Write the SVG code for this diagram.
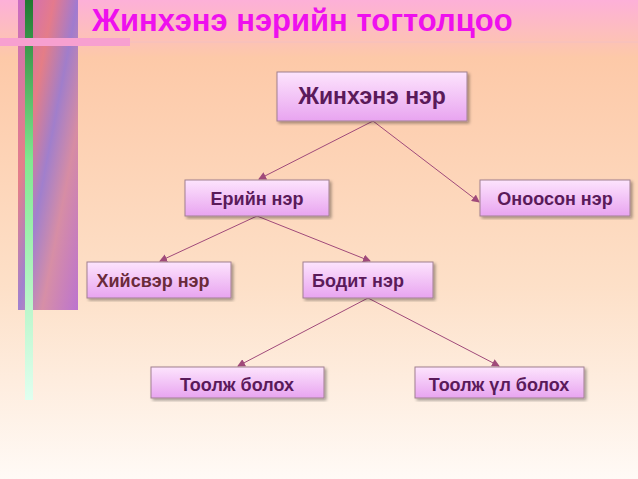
<svg xmlns="http://www.w3.org/2000/svg" width="638" height="479" viewBox="0 0 638 479">
<defs>
<linearGradient id="bg" x1="0" y1="0" x2="0" y2="1">
<stop offset="0" stop-color="#fdb0d8"/><stop offset="0.12" stop-color="#fdc9a8"/><stop offset="0.6" stop-color="#fde0c8"/><stop offset="1" stop-color="#fffaf6"/></linearGradient>
<linearGradient id="nd" x1="0" y1="0" x2="0" y2="1">
<stop offset="0" stop-color="#fde4fd"/><stop offset="1" stop-color="#e8a4f0"/></linearGradient>
<linearGradient id="strip" x1="0" y1="0" x2="1" y2="1">
<stop offset="0" stop-color="#c060c0"/><stop offset="0.3" stop-color="#e07080"/><stop offset="0.5" stop-color="#9070d0"/><stop offset="0.7" stop-color="#d080a0"/><stop offset="1" stop-color="#b060d0"/></linearGradient>
<linearGradient id="gr" x1="0" y1="0" x2="0" y2="1">
<stop offset="0" stop-color="#207830"/><stop offset="0.4" stop-color="#80e890"/><stop offset="1" stop-color="#e0fff0"/></linearGradient>
<marker id="ar" markerWidth="8" markerHeight="8" refX="7" refY="4" orient="auto" markerUnits="userSpaceOnUse"><path d="M0,0 L8,4 L0,8 Z" fill="#a04a7a"/></marker>
<filter id="sh"><feDropShadow dx="2" dy="2" stdDeviation="1.5" flood-color="#000" flood-opacity="0.35"/></filter>
<style>
.n rect{fill:url(#nd);stroke:#a08090;stroke-width:1;filter:url(#sh)}
.n text{font-family:"Liberation Sans",Arial,sans-serif;font-weight:bold;font-size:18px;fill:#5a1a5a;text-anchor:middle}
.e line{stroke:#a04a7a;stroke-width:1;marker-end:url(#ar)}
</style>
</defs>
<rect width="638" height="479" fill="url(#bg)"/>
<rect x="18" y="0" width="60" height="310" fill="url(#strip)" opacity="0.85"/>
<rect x="25" y="0" width="8" height="400" fill="url(#gr)"/>
<rect x="0" y="38" width="130" height="8" fill="#f7a0d0"/>
<line x1="130" y1="42" x2="638" y2="42" stroke="#f4c0c0" stroke-width="1"/>
<text x="92" y="31" font-family="Liberation Sans,Arial,sans-serif" font-weight="bold" font-size="31" fill="#ee10ee">Жинхэнэ нэрийн тогтолцоо</text>
<g class="e">
<line x1="373" y1="121" x2="259" y2="179"/>
<line x1="373" y1="121" x2="479" y2="202"/>
<line x1="257" y1="216" x2="160" y2="261"/>
<line x1="257" y1="216" x2="370" y2="261"/>
<line x1="368" y1="298" x2="238" y2="366"/>
<line x1="368" y1="298" x2="499" y2="366"/>
</g>
<g id="n1" class="n"><rect x="277" y="72" width="190" height="49"/><text x="372" y="104" style="font-size:23px">Жинхэнэ нэр</text></g>
<g id="n2" class="n"><rect x="185" y="180" width="144" height="36"/><text x="257" y="205">Ерийн нэр</text></g>
<g id="n3" class="n"><rect x="480" y="180" width="150" height="36"/><text x="555" y="205">Оноосон нэр</text></g>
<g id="n4" class="n"><rect x="87" y="262" width="144" height="36"/><text x="153" y="287" style="fill:#6a2a3a">Хийсвэр нэр</text></g>
<g id="n5" class="n"><rect x="303" y="262" width="130" height="36"/><text x="358" y="287">Бодит нэр</text></g>
<g id="n6" class="n"><rect x="151" y="367" width="173" height="31"/><text x="237" y="391">Тоолж болох</text></g>
<g id="n7" class="n"><rect x="415" y="367" width="169" height="31"/><text x="499" y="391">Тоолж үл болох</text></g>
</svg>
